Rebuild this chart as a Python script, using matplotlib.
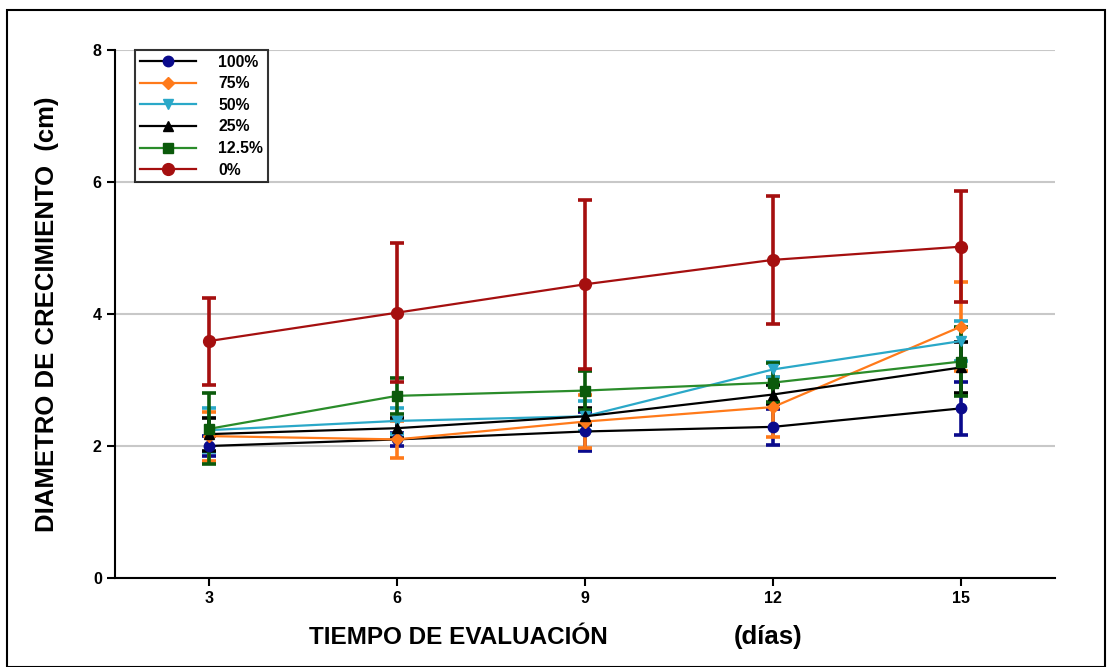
import matplotlib
matplotlib.use("Agg")
import matplotlib.pyplot as plt
from matplotlib.patches import Rectangle

days = [3, 6, 9, 12, 15]
labels = ["100%", "75%", "50%", "25%", "12.5%", "0%"]
m100 = [2.00, 2.10, 2.22, 2.29, 2.57]
e100 = [0.15, 0.10, 0.30, 0.27, 0.40]
m75 = [2.15, 2.10, 2.37, 2.59, 3.81]
e75 = [0.37, 0.28, 0.40, 0.46, 0.68]
m50 = [2.24, 2.38, 2.45, 3.16, 3.59]
e50 = [0.33, 0.20, 0.23, 0.12, 0.30]
m25 = [2.18, 2.27, 2.45, 2.78, 3.19]
e25 = [0.25, 0.15, 0.13, 0.15, 0.39]
m125 = [2.26, 2.76, 2.84, 2.96, 3.28]
e125 = [0.54, 0.27, 0.30, 0.30, 0.52]
m0 = [3.59, 4.02, 4.45, 4.82, 5.02]
e0 = [0.66, 1.05, 1.28, 0.97, 0.84]

means = [m100, m75, m50, m25, m125, m0]
errs = [e100, e75, e50, e25, e125, e0]
line_colors = ["#000000", "#FF7A1A", "#2AA8C8", "#000000", "#2A8C2A", "#A50F0F"]
mark_colors = ["#0A0A8C", "#FF7A1A", "#2AA8C8", "#000000", "#0B5A0B", "#A50F0F"]
markers = ["o", "D", "v", "^", "s", "o"]
msizes = [7.5, 6, 7.5, 7.5, 7, 8.5]

plt.rcParams['font.family'] = ['Liberation Sans', 'DejaVu Sans']

fig = plt.figure(figsize=(11.12, 6.67), dpi=100)
ax = fig.add_axes([115/1112, 1 - 578/667, (1055-115)/1112, (578-50)/667])

for m, e, lc, mc, mk, ms, lab in zip(means, errs, line_colors, mark_colors, markers, msizes, labels):
    ax.errorbar(days, m, yerr=e, fmt='none', ecolor=mc, elinewidth=2.6,
                capsize=5, capthick=2.6, zorder=2)
    ax.plot(days, m, color=lc, lw=1.6, marker=mk, markersize=ms,
            markerfacecolor=mc, markeredgecolor=mc, label=lab, zorder=3)

ax.set_xlim(1.5, 16.5)
ax.set_ylim(0, 8)
ax.set_yticks([0, 2, 4, 6, 8])
ax.set_xticks(days)
ax.yaxis.grid(True, color="#C8C8C8", lw=1.5)
ax.set_axisbelow(True)
for s in ["top", "right"]:
    ax.spines[s].set_visible(False)
ax.spines["left"].set_linewidth(1.5)
ax.spines["bottom"].set_linewidth(1.5)
ax.tick_params(axis="both", width=1.5, length=6, labelsize=11.5)
for t in ax.get_xticklabels() + ax.get_yticklabels():
    t.set_fontweight("bold")

ax.set_ylabel("DIAMETRO DE CRECIMIENTO  (cm)", fontsize=18.5, fontweight="bold", labelpad=24)

leg = ax.legend(loc="upper left", bbox_to_anchor=(20/940, 1.0), frameon=True,
                fancybox=False, edgecolor="black",
                prop={"weight": "bold", "size": 11.3}, handlelength=3.6,
                labelspacing=0.42, borderpad=0.3, handletextpad=1.4,
                borderaxespad=0.0)
leg.get_frame().set_linewidth(1.5)

fig.text(458/1112, 1 - 637/667, "TIEMPO DE EVALUACIÓN", ha="center", va="center",
         fontsize=17.5, fontweight="bold")
fig.text(768/1112, 1 - 637/667, "(días)", ha="center", va="center",
         fontsize=18.5, fontweight="bold")

fig.patches.append(Rectangle((7/1112, 0.0), 1098/1112, 1 - 10/667, transform=fig.transFigure,
                             fill=False, edgecolor="black", lw=1.5))

fig.savefig("out.png", dpi=100)
